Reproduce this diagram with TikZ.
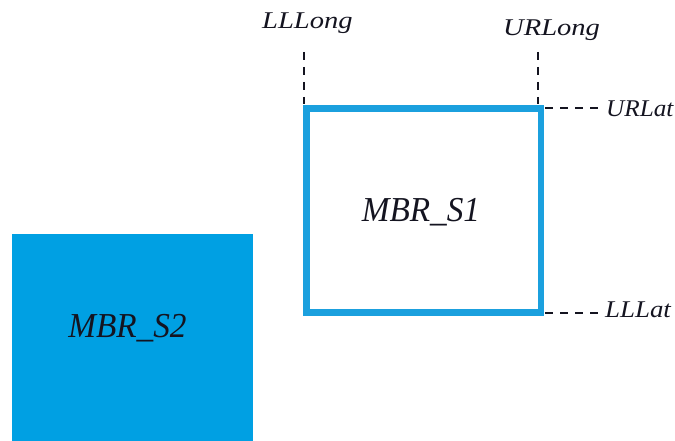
\documentclass[tikz,border=0pt]{standalone}
\usepackage{fontspec}
\usepackage{graphicx}
\setmainfont{Liberation Serif}
\definecolor{boxblue}{RGB}{0,160,227}
\definecolor{edgeblue}{RGB}{27,160,222}
\definecolor{ink}{RGB}{20,20,32}
\begin{document}
\begin{tikzpicture}[x=1pt,y=1pt,
  lbl/.style={inner sep=0pt,text=ink,font=\fontsize{24}{28}\selectfont\itshape},
  big/.style={inner sep=0pt,text=ink,font=\fontsize{35}{40}\selectfont\itshape},
  guide/.style={draw=ink,line width=1.7pt,dash pattern=on 8pt off 7pt}]
\useasboundingbox (0,0) rectangle (675,441);
% MBR_S1 outline
\node[draw=edgeblue,line width=6.5pt,minimum width=234.5pt,minimum height=204pt,inner sep=0pt] (s1) at (423.75,230.5) {};
% MBR_S2 filled
\node[fill=boxblue,minimum width=241pt,minimum height=217pt,inner sep=0pt] (s2) at (132.5,98.5) {};
\node[big,anchor=base] (t1) at (421,219) {\scalebox{0.95}[1]{MBR\_S1}};
\node[big,anchor=base] (t2) at (127.5,103) {\scalebox{0.95}[1]{MBR\_S2}};
% labels
\node[lbl,anchor=base west] (llong) at (262,412) {\scalebox{1.19}[1]{LLLong}};
\node[lbl,anchor=base west] (ulong) at (503,405) {\scalebox{1.19}[1]{URLong}};
\node[lbl,anchor=base west] (ulat) at (606,324) {\scalebox{1.05}[1]{URLat}};
\node[lbl,anchor=base west] (llat) at (605,123) {\scalebox{1.12}[1]{LLLat}};
% guide lines
\coordinate (a1) at (304,389);
\coordinate (a2) at (304,337);
\coordinate (b1) at (538,389);
\coordinate (b2) at (538,337);
\coordinate (c1) at (545,333);
\coordinate (c2) at (599,333);
\coordinate (d1) at (545,128);
\coordinate (d2) at (599,128);
\draw[guide] (a1) -- (a2);
\draw[guide] (b1) -- (b2);
\draw[guide] (c1) -- (c2);
\draw[guide] (d1) -- (d2);
\end{tikzpicture}
\end{document}
